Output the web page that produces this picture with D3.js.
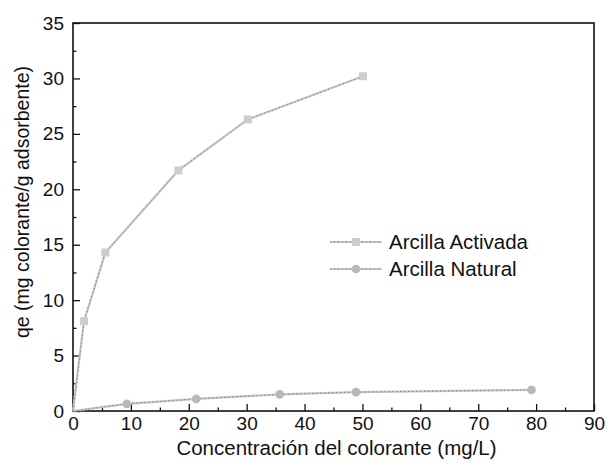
<!DOCTYPE html>
<html>
<head>
<meta charset="utf-8">
<script src="https://cdn.jsdelivr.net/npm/d3@7"></script>
<style>
body { margin: 0; background: #fff; }
text { font-family: "Liberation Sans", Arial, sans-serif; fill: #111; }
</style>
</head>
<body>
<div id="isoterma"></div>
<script>
//
// Data
//
var seriesNames = ["Arcilla Activada", "Arcilla Natural"];
var activadaX = [0, 1.9, 5.6, 18.2, 30.2, 50.1];
var activadaY = [0, 8.1, 14.3, 21.7, 26.3, 30.2];
var naturalX = [0, 9.3, 21.3, 35.7, 48.9, 79.2];
var naturalY = [0, 0.65, 1.1, 1.5, 1.7, 1.9];
var xTicks = [0, 10, 20, 30, 40, 50, 60, 70, 80, 90];
var yTicks = [0, 5, 10, 15, 20, 25, 30, 35];

//
// Size of the picture and margins
//
var margin = {top: 23, right: 21, bottom: 59, left: 73};
var width = 615 - margin.left - margin.right;
var height = 470 - margin.top - margin.bottom;

var x = d3.scaleLinear().domain([0, 90]).range([0, width]);
var y = d3.scaleLinear().domain([0, 35]).range([height, 0]);

var svg = d3.select("#isoterma").append("svg")
	.attr("width", 615)
	.attr("height", 470)
	.append("g")
	.attr("transform", "translate(" + margin.left + "," + margin.top + ")");

//
// Axes: ticks pointing inward, minor ticks every half step
//
var xMinor = d3.range(5, 90, 10);
var yMinor = d3.range(2.5, 35, 5);

var axisX = svg.append("g")
	.attr("transform", "translate(0," + height + ")")
	.call(d3.axisBottom(x).tickValues(xTicks).tickSizeInner(-7).tickSizeOuter(0).tickPadding(6));
svg.append("g")
	.attr("transform", "translate(0," + height + ")")
	.call(d3.axisBottom(x).tickValues(xMinor).tickSizeInner(-3.5).tickSizeOuter(0).tickFormat(""));

var axisY = svg.append("g")
	.call(d3.axisLeft(y).tickValues(yTicks).tickSizeInner(-7).tickSizeOuter(0).tickPadding(9));
svg.append("g")
	.call(d3.axisLeft(y).tickValues(yMinor).tickSizeInner(-3.5).tickSizeOuter(0).tickFormat(""));

svg.selectAll(".domain").remove();
svg.selectAll(".tick line").style("stroke", "#111").style("stroke-width", 1.3);
axisX.selectAll("text").style("font-size", "19px");
axisY.selectAll("text").style("font-size", "19px");

//
// Frame round the plot
//
svg.append("rect")
	.attr("x", 0)
	.attr("y", 0)
	.attr("width", width)
	.attr("height", height)
	.style("fill", "none")
	.style("stroke", "#111")
	.style("stroke-width", 1.6);

//
// Axis labels
//
svg.append("text")
	.attr("x", width / 2 + 3)
	.attr("y", height + 44)
	.attr("text-anchor", "middle")
	.style("font-size", "20.5px")
	.text("Concentración del colorante (mg/L)");

svg.append("text")
	.attr("transform", "rotate(-90)")
	.attr("x", -179)
	.attr("y", -44)
	.attr("text-anchor", "middle")
	.style("font-size", "19.5px")
	.text("qe (mg colorante/g adsorbente)");

//
// Lines and markers
//
var line = d3.line()
	.x(function(d) { return x(d[0]); })
	.y(function(d) { return y(d[1]); });

var activada = activadaX.map(function(v, i) { return [v, activadaY[i]]; });
var natural = naturalX.map(function(v, i) { return [v, naturalY[i]]; });

function drawSeries(data) {
	svg.append("path")
		.datum(data)
		.attr("d", line)
		.style("fill", "none")
		.style("stroke", "#c4c4c4")
		.style("stroke-width", 2.2);
	svg.append("path")
		.datum(data)
		.attr("d", line)
		.style("fill", "none")
		.style("stroke", "#6a6a6a")
		.style("stroke-width", 0.9)
		.style("stroke-dasharray", "1,3");
}

drawSeries(activada);
drawSeries(natural);

svg.selectAll(".sq")
	.data(activada.slice(1))
	.enter().append("rect")
	.attr("x", function(d) { return x(d[0]) - 4; })
	.attr("y", function(d) { return y(d[1]) - 4; })
	.attr("width", 8)
	.attr("height", 8)
	.style("fill", "#cdcdcd");

svg.selectAll(".dot")
	.data(natural.slice(1))
	.enter().append("path")
	.attr("transform", function(d) { return "translate(" + x(d[0]) + "," + y(d[1]) + ")"; })
	.attr("d", d3.symbol().type(d3.symbolCircle).size(60))
	.style("fill", "#b8b8b8");

//
// Legend
//
var legend = svg.selectAll(".legend")
	.data(seriesNames)
	.enter().append("g")
	.attr("class", "legend")
	.attr("transform", function(d, i) { return "translate(257," + (219 + i * 27) + ")"; });

legend.append("line")
	.attr("x1", 0)
	.attr("x2", 52)
	.style("stroke", "#c4c4c4")
	.style("stroke-width", 2.2);
legend.append("line")
	.attr("x1", 0)
	.attr("x2", 52)
	.style("stroke", "#6a6a6a")
	.style("stroke-width", 0.9)
	.style("stroke-dasharray", "1,3");

legend.filter(function(d, i) { return i === 0; })
	.append("rect")
	.attr("x", 22)
	.attr("y", -4)
	.attr("width", 8)
	.attr("height", 8)
	.style("fill", "#cdcdcd");
legend.filter(function(d, i) { return i === 1; })
	.append("path")
	.attr("transform", "translate(26,0)")
	.attr("d", d3.symbol().type(d3.symbolCircle).size(60))
	.style("fill", "#b8b8b8");

legend.append("text")
	.attr("x", 59)
	.attr("dy", "0.35em")
	.style("font-size", "20.5px")
	.text(function(d) { return d; });
</script>
</body>
</html>
